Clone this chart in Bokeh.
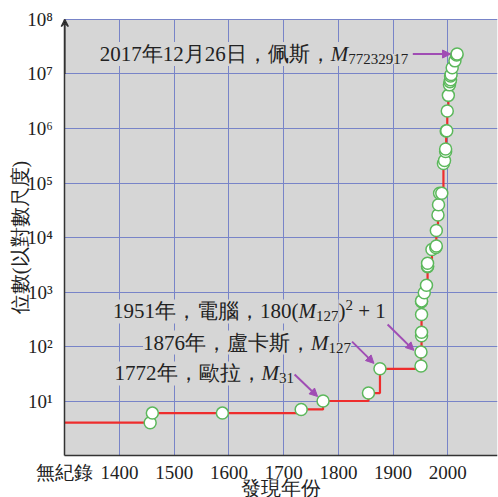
from bokeh.plotting import figure
from bokeh.models import Range1d, FixedTicker, Label, Arrow, NormalHead, VeeHead, Grid
from bokeh.embed import file_html
from bokeh.resources import INLINE

# ---- data: year of discovery and number of digits of record prime ----
years = [1456, 1460, 1588, 1732, 1772, 1855, 1876, 1951, 1951,
         1952, 1952, 1952, 1952, 1952, 1957, 1961, 1963, 1963, 1963,
         1971, 1978, 1979, 1979, 1982, 1983, 1985, 1989, 1992, 1994,
         1996, 1996, 1997, 1998, 1999, 2001, 2003, 2004, 2005, 2005,
         2006, 2008, 2013, 2016, 2017]
digits = [4, 6, 6, 7, 10, 14, 39, 44, 79,
          157, 183, 386, 664, 687, 969, 1332, 2917, 2993, 3376,
          6002, 6533, 6987, 13395, 25962, 39751, 65050, 65087, 227832, 258716,
          378632, 420921, 895932, 909526, 2098960, 4053946, 6320430, 7235733, 7816230, 9152052,
          9808358, 12978189, 17425170, 22338618, 23249425]

no_record_year = 1300
x_ticks = [1300, 1400, 1500, 1600, 1700, 1800, 1900, 2000]
x_tick_labels = ["無紀錄", "1400", "1500", "1600", "1700", "1800", "1900", "2000"]
y_ticks = [1, 10, 100, 1000, 10**4, 10**5, 10**6, 10**7, 10**8]
y_tick_labels = ["", "10¹", "10²", "10³", "10⁴", "10⁵", "10⁶", "10⁷", "10⁸"]
x_label = "發現年份"
y_label = "位數(以對數尺度)"

BG = "#d6d6d6"
GRID = "#7884c8"
GRID_DARK = "#4456ad"
SERIF = "Liberation Serif"
TXT = "#222222"
PURPLE = "#a04db4"

# plotted area (grey) and the surrounding room for axis texts
X0, X1 = 1300, 2090.8
Y0, Y1 = 1, 1e8
VIEW_X0 = 1182.5
VIEW_Y0, VIEW_Y1 = 10 ** -0.7706, 10 ** 8.3486

p = figure(width=498, height=497, title=None,
           x_range=Range1d(VIEW_X0, X1), y_range=Range1d(VIEW_Y0, VIEW_Y1),
           y_axis_type="log", output_backend="svg", toolbar_location=None,
           min_border_left=0, min_border_right=1, min_border_top=0, min_border_bottom=0)
p.background_fill_color = "white"
p.border_fill_color = "white"
p.outline_line_color = None

# grey plotting area
p.quad(left=X0, right=X1, bottom=Y0, top=Y1, fill_color=BG, line_color=None, level="image")

# axes
for ax in (p.xaxis, p.yaxis):
    ax.axis_line_color = "#333333"
    ax.axis_line_width = 1.5
    ax.major_tick_line_color = None
    ax.minor_tick_line_color = None
    ax.major_label_text_font = SERIF
    ax.major_label_text_color = TXT
    ax.axis_label_text_font = SERIF
    ax.axis_label_text_font_style = "normal"
    ax.axis_label_text_font_size = "20px"
    ax.axis_label_text_color = TXT
p.xaxis.fixed_location = Y0
p.xaxis.bounds = (X0, X1)
p.xaxis.ticker = FixedTicker(ticks=x_ticks)
p.xaxis.major_label_overrides = {t: l for t, l in zip(x_ticks, x_tick_labels)}
p.xaxis.major_label_text_font_size = "19px"
p.xaxis.major_label_standoff = 0
p.xaxis.axis_label = x_label
p.xaxis.axis_label_standoff = -9
p.yaxis.fixed_location = X0
p.yaxis.bounds = (Y0, Y1)
p.yaxis.ticker = FixedTicker(ticks=y_ticks)
p.yaxis.major_label_overrides = {t: l for t, l in zip(y_ticks, y_tick_labels)}
p.yaxis.major_label_text_font_size = "19px"
p.yaxis.major_label_standoff = 6
p.yaxis.axis_label = y_label
p.yaxis.axis_label_standoff = -7

# grid
p.xgrid.ticker = FixedTicker(ticks=x_ticks[1:])
p.ygrid.ticker = FixedTicker(ticks=y_ticks[1:])
dark = Grid(dimension=0, ticker=FixedTicker(ticks=[1800, 2000]),
            grid_line_color=GRID_DARK, grid_line_width=1)
p.add_layout(dark)
for g in (p.xgrid, p.ygrid):
    g.grid_line_color = GRID
    g.grid_line_width = 1
has_cross = "cross_bounds" in Grid.properties()
for g in (p.xgrid[0], dark):
    if has_cross:
        g.cross_bounds = (Y0, Y1)
if has_cross:
    p.ygrid[0].cross_bounds = (X0, X1)
else:
    # white bands hide grid lines outside the plotting area
    p.quad(left=VIEW_X0, right=X1, bottom=VIEW_Y0, top=Y0, fill_color="white",
           line_color=None, level="underlay")
    p.quad(left=VIEW_X0, right=X1, bottom=Y1 * 1.03, top=VIEW_Y1, fill_color="white",
           line_color=None, level="underlay")
    p.quad(left=VIEW_X0, right=X0, bottom=VIEW_Y0, top=VIEW_Y1, fill_color="white",
           line_color=None, level="underlay")

# data
step_x = [no_record_year] + years
step_y = [digits[0]] + digits
p.step(step_x, step_y, mode="after", line_color="#ee2d2d", line_width=2.2)
p.scatter(years, digits, size=12, fill_color="white", line_color="#5cb85c", line_width=1.5)

# y-axis arrow head
p.add_layout(Arrow(x_start=X0, y_start=1e7, x_end=X0, y_end=Y1,
                   line_color="#333333", line_width=1.5,
                   end=VeeHead(size=7, line_color="#333333", line_width=1.5)))


def char_w(ch):
    if ord(ch) > 0x2E80:
        return 1.0
    if ch.isdigit():
        return 0.5
    if ch in "()":
        return 0.333
    if ch == " ":
        return 0.25
    if ch == "+":
        return 0.564
    if ch == "M":
        return 0.833
    return 0.5


def rich(x, y, pieces, fs=21):
    off = 0.0
    for text, kind in pieces:
        size = fs if kind in ("n", "i") else 15
        dy = {"n": 0, "i": 0, "sub": -5, "sup": 6}[kind]
        lead = len(text) - len(text.lstrip(" "))
        off += lead * 0.25 * size
        text = text.lstrip(" ")
        p.add_layout(Label(x=x, y=y, x_offset=off, y_offset=dy, text=text,
                           text_font=SERIF, text_font_size=f"{size}px",
                           text_font_style="italic" if kind == "i" else "normal",
                           text_align="left", text_baseline="middle", text_color=TXT,
                           background_fill_color=BG))
        off += sum(char_w(c) for c in text) * size


def arrow(x0, y0, x1, y1):
    p.add_layout(Arrow(x_start=x0, y_start=y0, x_end=x1, y_end=y1,
                       line_color=PURPLE, line_width=2,
                       end=NormalHead(size=8, fill_color=PURPLE, line_color=PURPLE)))


rich(1364, 23249425, [("2017年12月26日，佩斯，", "n"), ("M", "i"), ("77232917", "sub")])
arrow(1936, 23249425, 2005, 23249425)

rich(1388, 439, [("1951年，電腦，180(", "n"), ("M", "i"), ("127", "sub"), (")", "n"),
                 ("2", "sup"), (" + 1", "n")])
arrow(1890, 253, 1938, 85)

rich(1443, 118, [("1876年，盧卡斯，", "n"), ("M", "i"), ("127", "sub")])
arrow(1825, 123, 1865, 49)

rich(1391, 32, [("1772年，歐拉，", "n"), ("M", "i"), ("31", "sub")])
arrow(1720, 30.6, 1762, 12.1)

open("out.html", "w").write(file_html(p, INLINE))
